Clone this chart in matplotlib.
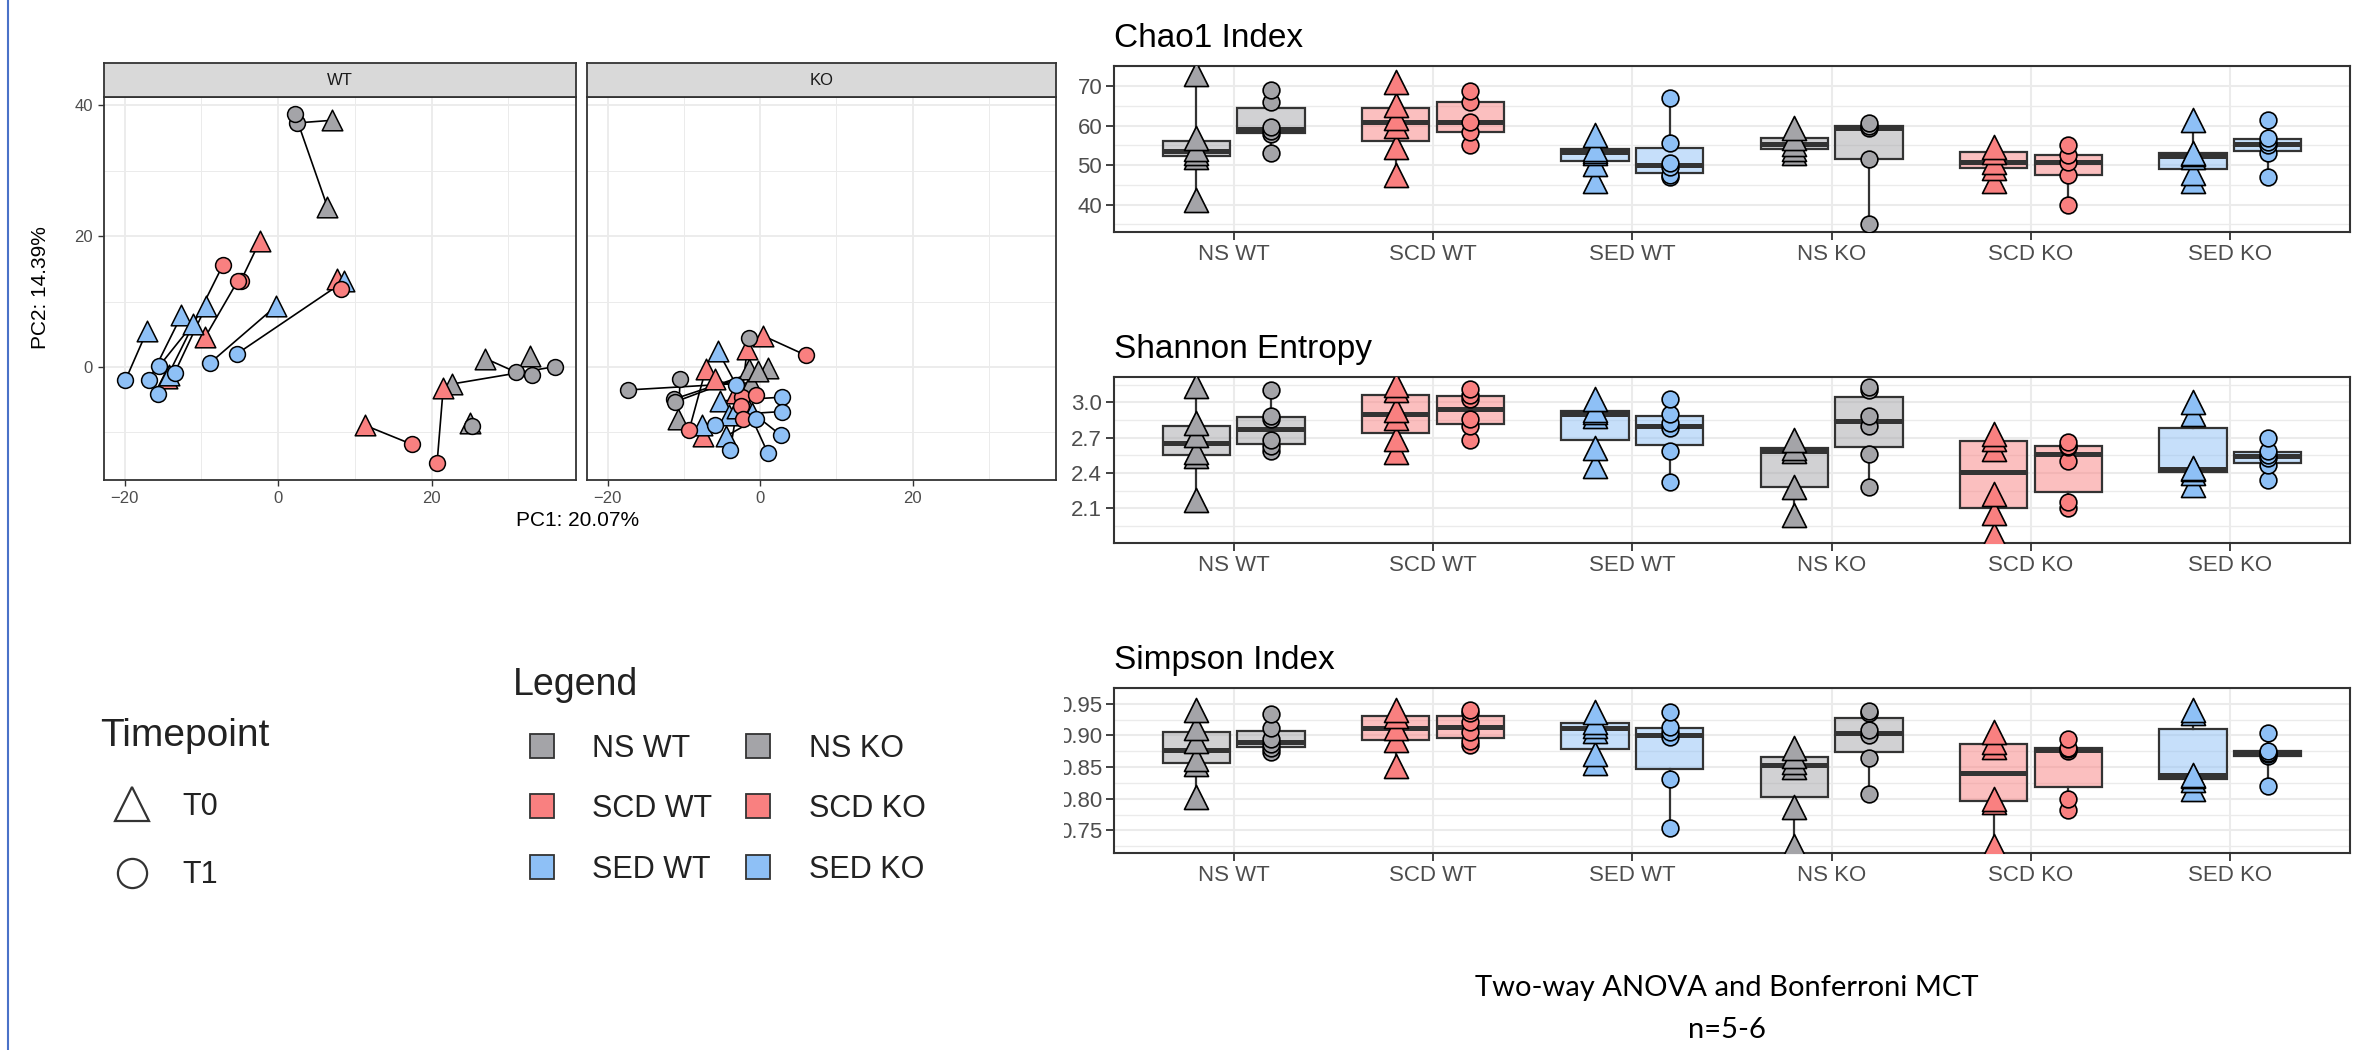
import numpy as np
import matplotlib
matplotlib.use("Agg")
import matplotlib.pyplot as plt
from matplotlib.colors import to_rgba
from matplotlib.lines import Line2D
from matplotlib.patches import Rectangle

plt.rcParams["font.family"] = ["Liberation Sans", "DejaVu Sans"]

W, H = 2365, 1050

groups = ["NS WT", "SCD WT", "SED WT", "NS KO", "SCD KO", "SED KO"]
group_colors = ["#A4A4A8", "#F98080", "#8EC0F6", "#A4A4A8", "#F98080", "#8EC0F6"]

# PCA scores (PC1, PC2); T0 and T1 of one mouse share the same index
ns_wt_t0 = [(7.0, 37.7), (6.4, 24.5), (27.0, 1.3), (32.8, 1.7), (22.6, -2.6), (25.0, -8.5)]
ns_wt_t1 = [(2.5, 37.3), (2.2, 38.6), (31.0, -0.8), (33.0, -1.2), (36.0, 0.05), (25.3, -9.0)]
scd_wt_t0 = [(-2.4, 19.2), (-9.5, 4.6), (-14.5, -1.6), (7.7, 13.4), (11.3, -8.9), (21.5, -3.2)]
scd_wt_t1 = [(-4.9, 13.1), (-5.3, 13.1), (-7.2, 15.6), (8.2, 11.9), (17.4, -11.8), (20.7, -14.6)]
sed_wt_t0 = [(-17.1, 5.5), (-12.6, 7.9), (-11.1, 6.6), (-9.4, 9.3), (-0.3, 9.3), (8.6, 13.1), (-14.2, -1.2)]
sed_wt_t1 = [(-19.9, -2.0), (-16.8, -2.0), (-15.5, 0.15), (-13.5, -0.9), (-8.9, 0.6), (-5.4, 2.0), (-15.6, -4.1)]
ns_ko_t0 = [(-1.2, -2.4), (-10.7, -8.0), (-1.5, -0.3), (1.1, -0.1), (-0.3, -0.6)]
ns_ko_t1 = [(-17.3, -3.5), (-10.5, -1.9), (-1.4, 4.4), (-11.3, -4.9), (-11.1, -5.3)]
scd_ko_t0 = [(0.35, 4.8), (-7.1, -0.25), (-1.7, 2.8), (-5.9, -1.9), (-7.5, -10.5), (-3.2, -4.0)]
scd_ko_t1 = [(6.0, 1.8), (-9.3, -9.6), (-2.4, -4.6), (-0.5, -4.2), (-2.5, -5.9), (-2.3, -7.9)]
sed_ko_t0 = [(-5.5, 2.4), (-5.3, -5.2), (-4.1, -7.3), (-4.5, -10.6), (-7.6, -8.8), (-2.0, -5.5),
             (-1.0, -7.0), (-3.0, -6.2)]
sed_ko_t1 = [(-3.1, -2.8), (2.9, -4.6), (2.9, -6.8), (-0.6, -8.0), (-5.9, -8.9), (1.0, -13.1),
             (2.7, -10.4), (-3.9, -12.6)]

# alpha diversity, one list per group (order of `groups`)
chao1_t0 = [[41.3, 52.0, 53.0, 54.2, 56.8, 73.2], [47.6, 54.7, 60.0, 62.0, 65.3, 71.1],
            [45.9, 50.4, 53.0, 53.6, 54.2, 57.6], [53.0, 54.1, 55.4, 56.8, 59.3],
            [45.9, 49.2, 50.9, 53.4, 54.7], [45.9, 48.0, 52.0, 52.8, 53.2, 61.4]]
chao1_t1 = [[53.0, 57.9, 58.6, 59.6, 66.0, 69.0], [55.1, 58.5, 61.0, 66.0, 68.8],
            [46.9, 47.4, 49.6, 50.6, 55.5, 67.0], [35.0, 51.5, 59.3, 60.0, 60.8],
            [40.0, 47.6, 50.7, 52.6, 55.1], [47.1, 53.0, 55.0, 55.8, 57.0, 61.4]]
shannon_t0 = [[2.17, 2.54, 2.58, 2.72, 2.82, 3.14], [2.58, 2.69, 2.87, 2.93, 3.10, 3.15],
              [2.46, 2.61, 2.88, 2.92, 2.93, 3.03], [2.04, 2.28, 2.59, 2.61, 2.68],
              [1.87, 2.06, 2.22, 2.60, 2.69, 2.73], [2.30, 2.40, 2.43, 2.44, 2.90, 3.00]]
shannon_t1 = [[2.59, 2.63, 2.68, 2.86, 2.88, 3.10], [2.68, 2.80, 2.86, 3.03, 3.06, 3.11],
              [2.32, 2.59, 2.78, 2.82, 2.90, 3.03], [2.28, 2.56, 2.80, 2.88, 3.10, 3.13],
              [2.10, 2.15, 2.50, 2.62, 2.63, 2.66], [2.34, 2.47, 2.53, 2.55, 2.59, 2.70]]
simpson_t0 = [[0.803, 0.855, 0.863, 0.891, 0.911, 0.940], [0.851, 0.893, 0.911, 0.930, 0.941],
              [0.856, 0.870, 0.907, 0.915, 0.922, 0.937], [0.725, 0.787, 0.850, 0.858, 0.868, 0.880],
              [0.725, 0.795, 0.800, 0.882, 0.889, 0.906], [0.815, 0.829, 0.836, 0.838, 0.935, 0.941]]
simpson_t1 = [[0.874, 0.880, 0.886, 0.894, 0.912, 0.934], [0.885, 0.892, 0.905, 0.921, 0.935, 0.940],
              [0.753, 0.831, 0.897, 0.905, 0.913, 0.937], [0.808, 0.865, 0.900, 0.908, 0.935, 0.938],
              [0.782, 0.799, 0.876, 0.878, 0.880, 0.895], [0.820, 0.867, 0.870, 0.873, 0.876, 0.904]]

fig = plt.figure(figsize=(W / 100, H / 100), dpi=100)


def px_axes(left, top, right, bottom):
    return fig.add_axes([left / W, 1 - bottom / H, (right - left) / W, (bottom - top) / H])


def style_frame(ax, lw=1.3):
    for sp in ax.spines.values():
        sp.set_color("#333333")
        sp.set_linewidth(lw)


# ---------------- PCA facets ----------------
wt_sets = [(ns_wt_t0, ns_wt_t1, group_colors[0]), (scd_wt_t0, scd_wt_t1, group_colors[1]),
           (sed_wt_t0, sed_wt_t1, group_colors[2])]
ko_sets = [(ns_ko_t0, ns_ko_t1, group_colors[3]), (scd_ko_t0, scd_ko_t1, group_colors[4]),
           (sed_ko_t0, sed_ko_t1, group_colors[5])]

all_pts = np.array([p for t0, t1, _ in wt_sets + ko_sets for p in t0 + t1])
xlo, xhi = all_pts[:, 0].min(), all_pts[:, 0].max()
ylo, yhi = all_pts[:, 1].min(), all_pts[:, 1].max()
xpad, ypad = 0.05 * (xhi - xlo), 0.05 * (yhi - ylo)

panels = [(104, 576, "WT", wt_sets, True), (587, 1056, "KO", ko_sets, False)]
for left, right, name, sets, show_y in panels:
    ax = px_axes(left, 97, right, 480)
    for t0, t1, col in sets:
        for (x0, y0), (x1, y1) in zip(t0, t1):
            ax.plot([x0, x1], [y0, y1], color="black", lw=1.2, zorder=2)
    for t0, t1, col in sets:
        ax.scatter([p[0] for p in t0], [p[1] for p in t0], marker="^", s=220, color=col,
                   edgecolors="black", linewidths=1.1, zorder=3)
    for t0, t1, col in sets:
        ax.scatter([p[0] for p in t1], [p[1] for p in t1], marker="o", s=130, color=col,
                   edgecolors="black", linewidths=1.1, zorder=4)
    ax.set_xlim(xlo - xpad, xhi + xpad)
    ax.set_ylim(ylo - ypad, yhi + ypad)
    ax.set_xticks([-20, 0, 20])
    ax.set_xticks([-10, 10, 30], minor=True)
    ax.set_yticks([0, 20, 40])
    ax.set_yticks([-10, 10, 30], minor=True)
    ax.grid(which="major", color="#EBEBEB", lw=1.3)
    ax.grid(which="minor", color="#EBEBEB", lw=0.7)
    ax.set_axisbelow(True)
    ax.tick_params(which="major", length=4, width=1, color="#333333", labelsize=12,
                   labelcolor="#4D4D4D", pad=4)
    ax.tick_params(which="minor", length=0)
    if not show_y:
        ax.tick_params(axis="y", which="both", labelleft=False, length=0)
    style_frame(ax)

    strip = px_axes(left, 63, right, 97)
    strip.set_facecolor("#D9D9D9")
    strip.set_xticks([])
    strip.set_yticks([])
    style_frame(strip)
    strip.text(0.5, 0.48, name, ha="center", va="center", fontsize=12, color="#1A1A1A",
               transform=strip.transAxes)

fig.text(578 / W, 1 - 520 / H, "PC1: 20.07%", ha="center", va="center", fontsize=15)
fig.text(40 / W, 1 - 288 / H, "PC2: 14.39%", ha="center", va="center", fontsize=15, rotation=90)


# ---------------- alpha diversity box plots ----------------
def box_panel(top, bottom, title, t0, t1, ticks, labels):
    ax = px_axes(1114, top, 2350, bottom)
    for data, off, marker, size in ((t0, -0.1875, "^", 300), (t1, 0.1875, "o", 145)):
        pos = np.arange(1, len(groups) + 1) + off
        bp = ax.boxplot(data, positions=pos, widths=0.3375, whis=(0, 100), patch_artist=True,
                        showfliers=False, showcaps=False, manage_ticks=False,
                        boxprops=dict(edgecolor="#333333", linewidth=1.6),
                        whiskerprops=dict(color="#333333", linewidth=1.6),
                        medianprops=dict(color="#333333", linewidth=3.6, solid_capstyle="butt"),
                        zorder=2)
        for patch, col in zip(bp["boxes"], group_colors):
            patch.set_facecolor(to_rgba(col, 0.5))
        for p, vals, col in zip(pos, data, group_colors):
            ax.scatter(np.full(len(vals), p), vals, marker=marker, s=size, color=col,
                       edgecolors="black", linewidths=1.2, zorder=4)
    allv = np.concatenate([np.concatenate([np.asarray(v) for v in t0]),
                           np.concatenate([np.asarray(v) for v in t1])])
    lo, hi = allv.min(), allv.max()
    pad = 0.05 * (hi - lo)
    ax.set_ylim(lo - pad, hi + pad)
    ax.set_xlim(0.4, len(groups) + 0.6)
    ax.set_xticks(np.arange(1, len(groups) + 1), groups)
    ax.set_yticks(ticks, labels)
    step = ticks[1] - ticks[0]
    ax.set_yticks(np.arange(ticks[0] - step / 2, ticks[-1] + step, step), minor=True)
    ax.grid(which="major", color="#EBEBEB", lw=1.5)
    ax.grid(which="minor", axis="y", color="#EBEBEB", lw=1.0)
    ax.set_axisbelow(True)
    ax.tick_params(which="major", length=5.5, width=1.3, color="#333333", labelsize=16,
                   labelcolor="#4D4D4D", pad=3)
    ax.tick_params(which="minor", length=0)
    style_frame(ax, 1.5)
    ax.set_title(title, loc="left", fontsize=24, pad=14, color="black")
    return ax


box_panel(66, 232, "Chao1 Index", chao1_t0, chao1_t1, [40, 50, 60, 70], ["40", "50", "60", "70"])
box_panel(377, 543, "Shannon Entropy", shannon_t0, shannon_t1, [2.1, 2.4, 2.7, 3.0],
          ["2.1", "2.4", "2.7", "3.0"])
box_panel(688, 853, "Simpson Index", simpson_t0, simpson_t1, [0.75, 0.80, 0.85, 0.90, 0.95],
          ["0.75", "0.80", "0.85", "0.90", "0.95"])

# the right-hand image was cropped, cutting off the start of the y labels
fig.add_artist(Rectangle((1060 / W, 0), 4 / W, 1, transform=fig.transFigure, facecolor="white",
                         edgecolor="none", zorder=10))

# ---------------- legends ----------------
tp_handles = [Line2D([], [], ls="none", marker="^", markersize=25, markerfacecolor="none",
                     markeredgecolor="#333333", markeredgewidth=1.6),
              Line2D([], [], ls="none", marker="o", markersize=21, markerfacecolor="none",
                     markeredgecolor="#333333", markeredgewidth=1.6)]
leg1 = fig.legend(tp_handles, ["T0", "T1"], title="Timepoint", loc="upper left",
                  bbox_to_anchor=(100 / W, 1 - 718 / H), frameon=False, fontsize=22,
                  title_fontsize=28, alignment="left", borderpad=0, borderaxespad=0,
                  handlelength=2.1, handletextpad=0.6, labelspacing=1.25)

grp_handles = [Line2D([], [], ls="none", marker="s", markersize=17, markerfacecolor=c,
                      markeredgecolor="#333333", markeredgewidth=1.3) for c in group_colors]
leg2 = fig.legend(grp_handles, groups, title="Legend", ncol=2, loc="upper left",
                  bbox_to_anchor=(513 / W, 1 - 667 / H), frameon=False, fontsize=22,
                  title_fontsize=27, alignment="left", borderpad=0, borderaxespad=0,
                  handlelength=1.9, handletextpad=0.7, columnspacing=0.55, labelspacing=1.0)
for leg in (leg1, leg2):
    for t in leg.get_texts():
        t.set_color("#222222")
    leg.get_title().set_color("#222222")

fig.text(1727 / W, 1 - 988 / H, "Two-way ANOVA and Bonferroni MCT", ha="center", va="center",
         fontsize=21, family=["Lato", "DejaVu Sans"])
fig.text(1727 / W, 1 - 1030 / H, "n=5-6", ha="center", va="center", fontsize=21,
         family=["Lato", "DejaVu Sans"])

fig.add_artist(Line2D([8 / W, 8 / W], [0, 1], transform=fig.transFigure, color="#4A72C8", lw=1.5))

fig.savefig("out.png", dpi=100)
